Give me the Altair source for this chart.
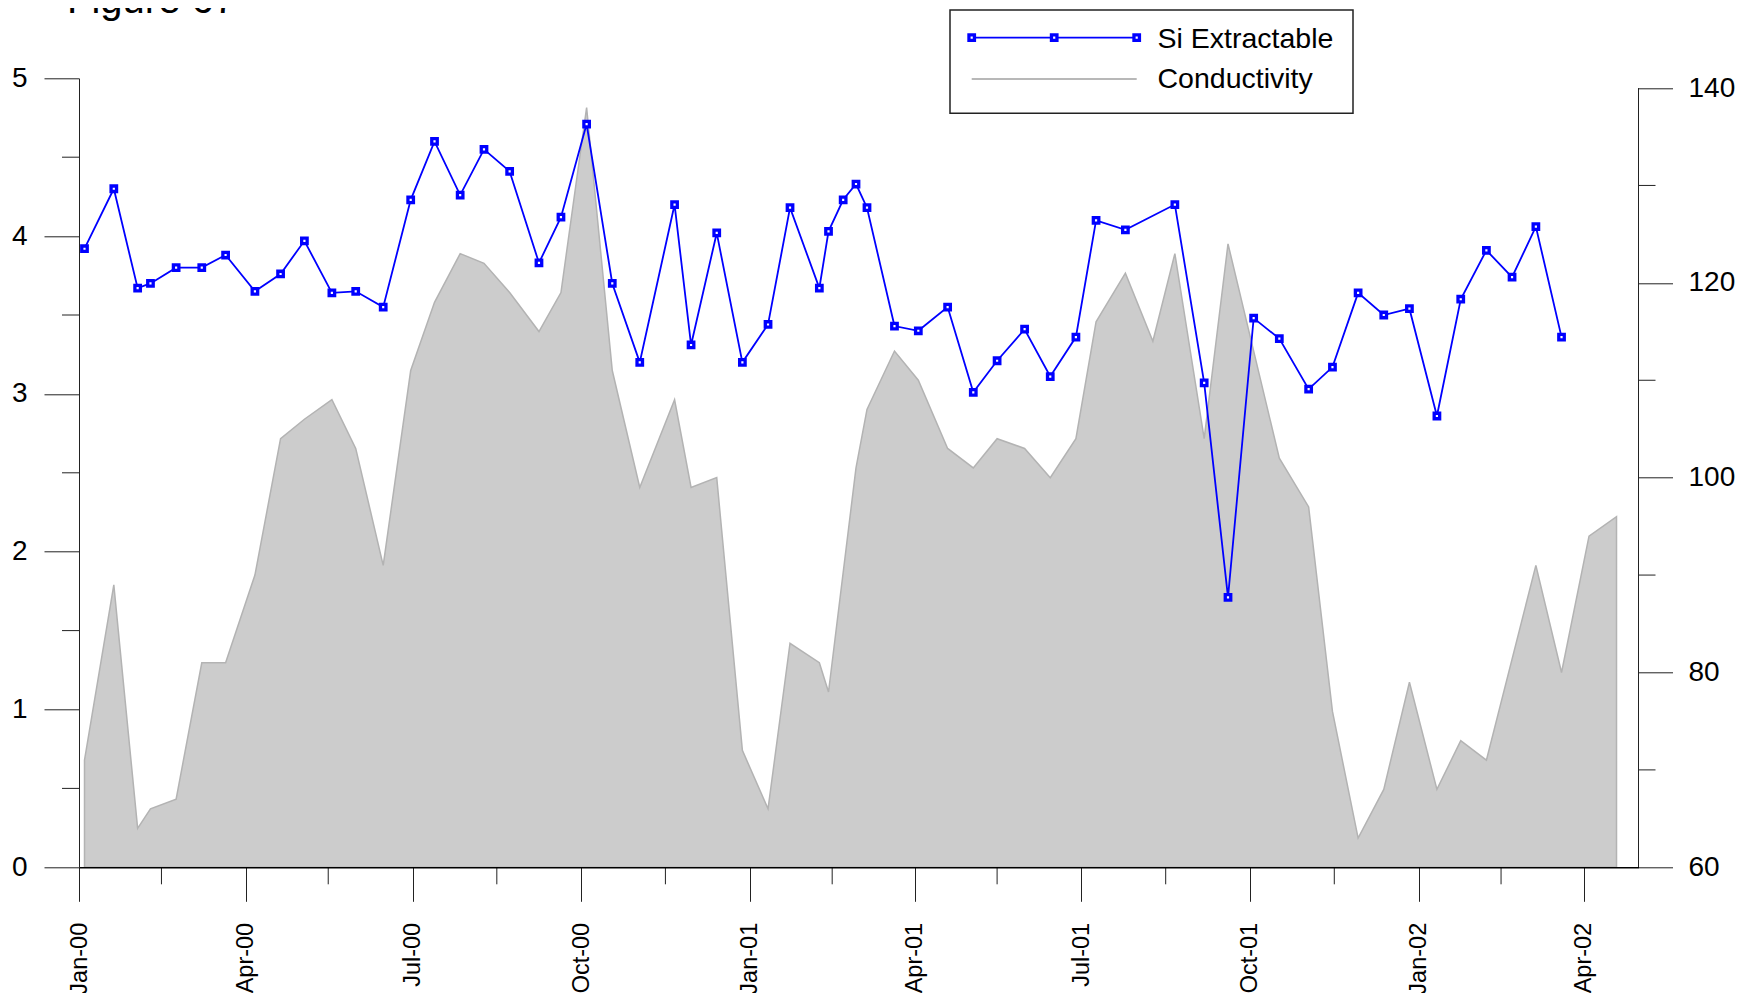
import altair as alt
import pandas as pd

# ---------------- data ----------------
si_dates = ["2000-01-04", "2000-01-20", "2000-02-02", "2000-02-09", "2000-02-23", "2000-03-08",
            "2000-03-21", "2000-04-06", "2000-04-20", "2000-05-03", "2000-05-18", "2000-05-31",
            "2000-06-15", "2000-06-30", "2000-07-13", "2000-07-27", "2000-08-09", "2000-08-23",
            "2000-09-08", "2000-09-20", "2000-10-04", "2000-10-18", "2000-11-02", "2000-11-21",
            "2000-11-30", "2000-12-14", "2000-12-28", "2001-01-11", "2001-01-23", "2001-02-08",
            "2001-02-13", "2001-02-21", "2001-02-28", "2001-03-06", "2001-03-21", "2001-04-03",
            "2001-04-19", "2001-05-03", "2001-05-16", "2001-05-31", "2001-06-14", "2001-06-28",
            "2001-07-09", "2001-07-25", "2001-08-21", "2001-09-06", "2001-09-19", "2001-10-03",
            "2001-10-17", "2001-11-02", "2001-11-15", "2001-11-29", "2001-12-13", "2001-12-27",
            "2002-01-11", "2002-01-24", "2002-02-07", "2002-02-21", "2002-03-06", "2002-03-20"]
si_values = [3.92, 4.30, 3.67, 3.70, 3.80, 3.80, 3.88, 3.65, 3.76, 3.97,
             3.64, 3.65, 3.55, 4.23, 4.60, 4.26, 4.55, 4.41, 3.83, 4.12,
             4.71, 3.70, 3.20, 4.20, 3.31, 4.02, 3.20, 3.44, 4.18, 3.67,
             4.03, 4.23, 4.33, 4.18, 3.43, 3.40, 3.55, 3.01, 3.21, 3.41,
             3.11, 3.36, 4.10, 4.04, 4.20, 3.07, 1.71, 3.48, 3.35, 3.03,
             3.17, 3.64, 3.50, 3.54, 2.86, 3.60, 3.91, 3.74, 4.06, 3.36]

cond_dates = ["2000-01-04", "2000-01-20", "2000-02-02", "2000-02-09", "2000-02-23", "2000-03-08",
              "2000-03-21", "2000-04-06", "2000-04-20", "2000-05-03", "2000-05-18", "2000-05-31",
              "2000-06-15", "2000-06-30", "2000-07-13", "2000-07-27", "2000-08-09", "2000-08-23",
              "2000-09-08", "2000-09-20", "2000-10-04", "2000-10-18", "2000-11-02", "2000-11-21",
              "2000-11-30", "2000-12-14", "2000-12-28", "2001-01-11", "2001-01-23", "2001-02-08",
              "2001-02-13", "2001-02-28", "2001-03-06", "2001-03-21", "2001-04-03", "2001-04-19",
              "2001-05-03", "2001-05-16", "2001-05-31", "2001-06-14", "2001-06-28", "2001-07-09",
              "2001-07-25", "2001-08-09", "2001-08-21", "2001-09-06", "2001-09-19", "2001-10-17",
              "2001-11-02", "2001-11-15", "2001-11-29", "2001-12-13", "2001-12-27", "2002-01-11",
              "2002-01-24", "2002-02-07", "2002-03-06", "2002-03-20", "2002-04-04", "2002-04-19"]
cond_values = [71, 89, 64, 66, 67, 81, 81, 90, 104, 106, 108, 103,
               91, 111, 118, 123, 122, 119, 115, 119, 138, 111, 99, 108,
               99, 100, 72, 66, 83, 81, 78, 101, 107, 113, 110, 103,
               101, 104, 103, 100, 104, 116, 121, 114, 123, 104, 124, 102,
               97, 76, 63, 68, 79, 68, 73, 71, 91, 80, 94, 96]

quarter_ticks = ["2000-01-01", "2000-04-01", "2000-07-01", "2000-10-01", "2001-01-01",
                 "2001-04-01", "2001-07-01", "2001-10-01", "2002-01-01", "2002-04-01"]
quarter_minor = ["2000-02-15", "2000-05-16", "2000-08-16", "2000-11-16", "2001-02-15",
                 "2001-05-16", "2001-08-16", "2001-11-16", "2002-02-15"]
x_range = ["2000-01-01", "2002-05-01"]
left_ticks = [0, 1, 2, 3, 4, 5]
left_minor = [0.5, 1.5, 2.5, 3.5, 4.5]
right_ticks = [60, 80, 100, 120, 140]
right_minor = [70, 90, 110, 130]
right_top = 141.0
title_text = "Figure 67"
series_names = ["Si Extractable", "Conductivity"]

# ---------------- layout / style ----------------
W, H = 1559.5, 789
FONT = "Liberation Sans"
BLUE = "#0000FF"
AXC = "#222222"


def ms(s):
    return int(pd.Timestamp(s, tz="UTC").value // 10**6)


x_scale = alt.Scale(type="utc", domain=[ms(x_range[0]), ms(x_range[1])], nice=False)
x_axis = alt.Axis(values=[ms(s) for s in quarter_ticks],
                  labelExpr="utcFormat(datum.value, '%b-%y')",
                  labelAngle=270, labelFontSize=23.5, labelFont=FONT, labelColor="black",
                  labelPadding=21, tickSize=34, tickColor=AXC, tickWidth=1,
                  domainColor="black", domainWidth=1.5, labelOverlap=False,
                  labelFlush=False, labelBound=False, grid=False, title=None, zindex=1)

yl_scale = alt.Scale(domain=[left_ticks[0], left_ticks[-1]], nice=False, zero=False)
yl_axis = alt.Axis(orient="left", values=left_ticks, format="d", tickSize=35, labelPadding=17,
                   labelFontSize=28, labelFont=FONT, labelColor="black", tickColor=AXC,
                   tickWidth=1, domainColor=AXC, domainWidth=1, grid=False, title=None,
                   zindex=1, labelOverlap=False)

yr_scale = alt.Scale(domain=[right_ticks[0], right_top], nice=False, zero=False)
yr_axis = alt.Axis(orient="right", values=right_ticks, format="d", tickSize=34, labelPadding=15.5,
                   labelFontSize=28, labelFont=FONT, labelColor="black", tickColor=AXC,
                   tickWidth=1, domain=False, grid=False, title=None, zindex=1,
                   labelOverlap=False)

si_df = pd.DataFrame({"date": si_dates, "si": si_values})
cond_df = pd.DataFrame({"date": cond_dates, "cond": cond_values})
one = pd.DataFrame({"k": [0]})

X = alt.X("date:T", scale=x_scale, axis=x_axis)

# ---------------- right-axis group (conductivity) ----------------
area = alt.Chart(cond_df).mark_area(fill="#CCCCCC", stroke="#B3B3B3", strokeWidth=1.5,
                                    opacity=1).encode(
    x=X,
    y=alt.Y("cond:Q", scale=yr_scale, axis=yr_axis),
    y2=alt.Y2Datum(right_ticks[0]),
)
r_minor = alt.Chart(pd.DataFrame({"cond": right_minor})).mark_rule(color=AXC, strokeWidth=1).encode(
    y=alt.Y("cond:Q", scale=yr_scale, axis=yr_axis),
    x=alt.value(W), x2=alt.value(W + 17),
)
r_domain = alt.Chart(one).mark_rule(color=AXC, strokeWidth=1).encode(
    x=alt.value(W),
    y=alt.YDatum(right_ticks[0], type="quantitative", scale=yr_scale, axis=yr_axis),
    y2=alt.Y2Datum(right_ticks[-1]),
)
right_group = alt.layer(area, r_minor, r_domain)

# ---------------- left-axis group (Si) ----------------
line = alt.Chart(si_df).mark_line(color=BLUE, strokeWidth=1.8).encode(
    x=X,
    y=alt.Y("si:Q", scale=yl_scale, axis=yl_axis),
)
pts = alt.Chart(si_df).mark_point(shape="square", size=30, filled=True, fill="white",
                                  stroke=BLUE, strokeWidth=3.3, opacity=1).encode(
    x=X,
    y=alt.Y("si:Q", scale=yl_scale, axis=yl_axis),
)
l_minor = alt.Chart(pd.DataFrame({"si": left_minor})).mark_rule(color=AXC, strokeWidth=1).encode(
    y=alt.Y("si:Q", scale=yl_scale, axis=yl_axis),
    x=alt.value(-17), x2=alt.value(0),
)
left_group = alt.layer(line, pts, l_minor)

# ---------------- minor x ticks ----------------
x_minor = alt.Chart(pd.DataFrame({"date": quarter_minor})).mark_rule(color=AXC, strokeWidth=1).encode(
    x=X,
    y=alt.value(H), y2=alt.value(H + 17),
)

# ---------------- title ----------------
title = alt.Chart(one).mark_text(align="left", baseline="alphabetic", fontSize=40, font=FONT,
                                 color="black").encode(
    x=alt.value(-12), y=alt.value(-65.3), text=alt.value(title_text))

# ---------------- legend ----------------
box = alt.Chart(one).mark_rect(fill="white", stroke="#222222", strokeWidth=1.5).encode(
    x=alt.value(871), x2=alt.value(1274), y=alt.value(-68.3), y2=alt.value(35))
leg_line1 = alt.Chart(one).mark_rule(color=BLUE, strokeWidth=1.8).encode(
    x=alt.value(892.7), x2=alt.value(1057.7), y=alt.value(-40.6))
leg_marks = [
    alt.Chart(one).mark_point(shape="square", size=30, filled=True, fill="white", stroke=BLUE,
                              strokeWidth=3.3, opacity=1).encode(x=alt.value(px), y=alt.value(-40.6))
    for px in (892.7, 975.2, 1057.7)
]
leg_line2 = alt.Chart(one).mark_rule(color="#B8B8B8", strokeWidth=2).encode(
    x=alt.value(892.7), x2=alt.value(1057.7), y=alt.value(0.7))
leg_t1 = alt.Chart(one).mark_text(align="left", baseline="alphabetic", fontSize=28.5, font=FONT,
                                  color="black").encode(
    x=alt.value(1078.5), y=alt.value(-30.6), text=alt.value(series_names[0]))
leg_t2 = alt.Chart(one).mark_text(align="left", baseline="alphabetic", fontSize=28.5, font=FONT,
                                  color="black").encode(
    x=alt.value(1078.5), y=alt.value(10), text=alt.value(series_names[1]))

chart = alt.layer(
    right_group, x_minor, left_group, title,
    box, leg_line1, *leg_marks, leg_line2, leg_t1, leg_t2,
).resolve_scale(y="independent").properties(
    width=W, height=H,
    autosize=alt.AutoSizeParams(type="none"),
    padding={"left": 71, "top": 70.3, "right": 96.5, "bottom": 132.7},
).configure_view(stroke=None)

chart.save("out.html", embed_options={"renderer": "svg", "actions": False})
